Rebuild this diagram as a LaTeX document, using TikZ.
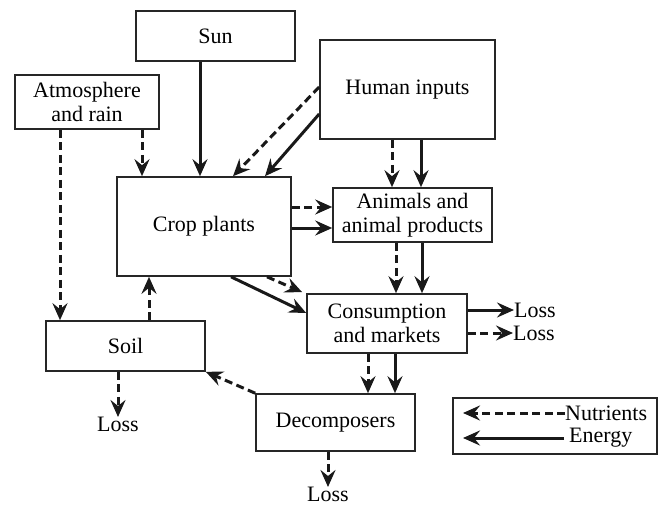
\documentclass[tikz,border=0pt]{standalone}
\usepackage{fontspec}
\setmainfont{Liberation Serif}
\usetikzlibrary{arrows.meta}
\begin{document}
\begin{tikzpicture}[x=1pt,y=-1pt]
\tikzset{
  txt/.style={font=\fontsize{22}{24}\selectfont},
  box/.style={txt, draw=black!85, line width=1.6pt, inner sep=0pt, align=center},
  lbl/.style={txt, inner sep=0pt},
  flow/.style={draw=black!90, line width=3pt, -{Stealth[length=17pt,width=15pt,inset=6pt]}},
  energy/.style={flow},
  nutrient/.style={flow, dash pattern=on 8pt off 4.5pt},
}
\useasboundingbox (0,0) rectangle (662,506);

% compartments
\node[box, minimum width=159pt, minimum height=50pt] (sun)    at (215.5,36)  {Sun};
\node[box, minimum width=144pt, minimum height=54pt] (atmo)   at (87,102)    {Atmosphere\\and rain};
\node[box, minimum width=175pt, minimum height=99pt] (human)  at (407.5,89.5){Human inputs};
\node[box, minimum width=174pt, minimum height=99pt] (crop)   at (204,226.5) {Crop plants};
\node[box, minimum width=159pt, minimum height=54pt] (animal) at (412.5,215) {Animals and\\animal products};
\node[box, minimum width=160pt, minimum height=59pt] (cons)   at (387,323.5) {Consumption\\and markets};
\node[box, minimum width=159pt, minimum height=50pt] (soil)   at (125.5,346) {Soil};
\node[box, minimum width=159pt, minimum height=57pt] (decomp) at (335.5,422.5){Decomposers};

% losses
\node[lbl, anchor=west]  (lossA) at (514,310) {Loss};
\node[lbl, anchor=west]  (lossB) at (513,333) {Loss};
\node[lbl, anchor=north] (lossC) at (118,417) {Loss};
\node[lbl, anchor=north] (lossD) at (328,487) {Loss};

% inputs to crop plants
\draw[energy]   (sun.south -| 200,0)  -- (crop.north -| 200,0);
\draw[nutrient] (atmo.south -| 142,0) -- (crop.north -| 142,0);
\draw[nutrient] (atmo.south -| 60,0)  -- (soil.north -| 60,0);
\draw[nutrient] (human.west |- 0,87)  -- (crop.north -| 233,0);
\draw[energy]   (human.west |- 0,114) -- (crop.north -| 265,0);

% human inputs to animals
\draw[nutrient] (human.south -| 392,0) -- (animal.north -| 392,0);
\draw[energy]   (human.south -| 421,0) -- (animal.north -| 421,0);

% crop plants to animals and consumption
\draw[nutrient] (crop.east |- 0,207) -- (animal.west |- 0,207);
\draw[energy]   (crop.east |- 0,228) -- (animal.west |- 0,228);
\draw[energy]   (crop.south -| 231,0) -- (cons.west |- 0,313);
\draw[nutrient] (crop.south -| 267,0) -- ([xshift=-4pt,yshift=1pt]cons.north west);

% animals to consumption
\draw[nutrient] (animal.south -| 396,0) -- (cons.north -| 396,0);
\draw[energy]   (animal.south -| 422,0) -- (cons.north -| 422,0);

% consumption outputs
\draw[energy]   (cons.east |- lossA.west) -- (lossA.west);
\draw[nutrient] (cons.east |- lossB.west) -- (lossB.west);
\draw[nutrient] (cons.south -| 368,0) -- (decomp.north -| 368,0);
\draw[energy]   (cons.south -| 395,0) -- (decomp.north -| 395,0);

% recycling through the soil
\draw[nutrient] (decomp.north west) -- (soil.south east);
\draw[nutrient] (soil.north -| 149,0) -- (crop.south -| 149,0);
\draw[nutrient] (soil.south -| lossC.north) -- (lossC.north);
\draw[nutrient] (decomp.south -| lossD.north) -- (lossD.north);

% legend
\node[box, minimum width=204pt, minimum height=56pt] (legend) at (555,426) {};
\node[lbl, anchor=west] (legN) at (565,413) {Nutrients};
\node[lbl, anchor=west] (legE) at (569,438) {Energy};
\coordinate (legNend) at (463,413);
\coordinate (legEend) at (463,438);
\draw[nutrient] (legN.west) -- (legNend);
\draw[energy]   ([xshift=-5pt]legE.west) -- (legEend);
\end{tikzpicture}
\end{document}
